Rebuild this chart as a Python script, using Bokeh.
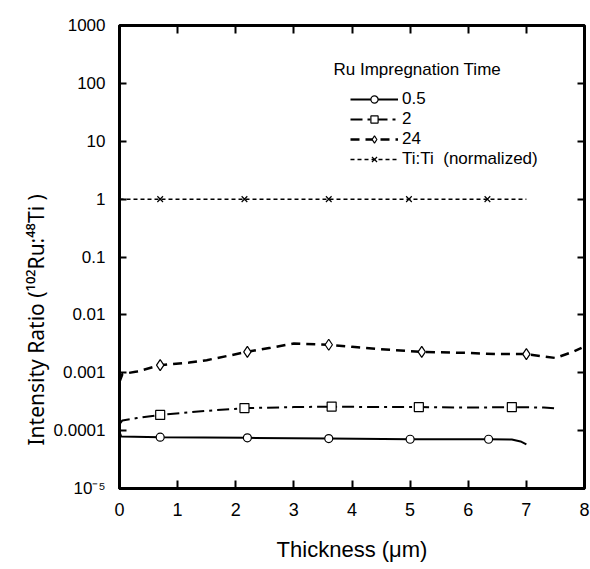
from bokeh.plotting import figure
from bokeh.models import (LinearAxis, LogAxis, FixedTicker, Legend, LegendItem, Label, Title)
from bokeh.embed import file_html
from bokeh.resources import INLINE

# ---- data ----
x_ticks = [0, 1, 2, 3, 4, 5, 6, 7, 8]
y_ticks = [1e-5, 1e-4, 1e-3, 1e-2, 1e-1, 1, 10, 100, 1000]
y_tick_labels = ["10\u207b\u2075", "0.0001", "0.001", "0.01", "0.1", "1", "10", "100", "1000"]

# 0.5 h impregnation (solid)
x_05 = [0, 0.03, 0.7, 2.2, 3.6, 5.0, 6.35, 6.75, 6.9, 7.0]
y_05 = [9.5e-5, 7.9e-5, 7.7e-5, 7.5e-5, 7.3e-5, 7.1e-5, 7.1e-5, 7.0e-5, 6.5e-5, 5.8e-5]
mx_05 = [0.7, 2.2, 3.6, 5.0, 6.35]
my_05 = [7.7e-5, 7.5e-5, 7.3e-5, 7.1e-5, 7.1e-5]

# 2 h impregnation (dash-dot)
x_2 = [0, 0.05, 0.3, 0.7, 1.5, 2.2, 3.0, 3.65, 4.5, 5.15, 6.0, 6.75, 7.3, 7.55]
y_2 = [1.3e-4, 1.5e-4, 1.65e-4, 1.87e-4, 2.2e-4, 2.45e-4, 2.55e-4, 2.6e-4, 2.55e-4,
       2.55e-4, 2.5e-4, 2.55e-4, 2.5e-4, 2.4e-4]
mx_2 = [0.7, 2.15, 3.65, 5.15, 6.75]
my_2 = [1.87e-4, 2.45e-4, 2.6e-4, 2.55e-4, 2.55e-4]

# 24 h impregnation (dashed)
x_24 = [0, 0.05, 0.3, 0.7, 1.2, 1.5, 2.2, 2.6, 3.0, 3.6, 4.0, 4.5, 5.2, 6.0, 6.5, 7.0, 7.5, 7.8, 7.95]
y_24 = [7e-4, 9.5e-4, 1.05e-3, 1.35e-3, 1.5e-3, 1.65e-3, 2.3e-3, 2.7e-3, 3.2e-3, 3.05e-3,
        2.8e-3, 2.55e-3, 2.3e-3, 2.2e-3, 2.1e-3, 2.1e-3, 1.8e-3, 2.3e-3, 2.7e-3]
mx_24 = [0.7, 2.2, 3.6, 5.2, 7.0]
my_24 = [1.35e-3, 2.3e-3, 3.05e-3, 2.3e-3, 2.1e-3]

# Ti:Ti normalized (short dash)
x_ti = [0, 7.0]
y_ti = [1, 1]
mx_ti = [0.7, 2.15, 3.6, 4.98, 6.33]
my_ti = [1, 1, 1, 1, 1]

series_labels = ["0.5", "2", "24", "Ti:Ti  (normalized)"]
y_title = "Intensity Ratio (\u00b9\u2070\u00b2Ru:\u2074\u2078Ti )"
x_title = "Thickness (\u03bcm)"

FONT = "Liberation Sans"

p = figure(width=590, height=569, x_range=(0, 8), y_range=(1e-5, 1e3),
           y_axis_type="log", output_backend="svg", toolbar_location=None,
           min_border_left=119, min_border_right=6, min_border_top=25,
           min_border_bottom=81)

p.grid.visible = False
p.outline_line_color = "black"
p.outline_line_width = 3

# bottom axis
xa = p.xaxis[0]
xa.ticker = FixedTicker(ticks=x_ticks)
xa.axis_line_width = 3
xa.major_tick_in = 8
xa.major_tick_out = 0
xa.major_tick_line_width = 2
xa.minor_tick_line_color = None
xa.major_label_text_font = FONT
xa.major_label_text_font_size = "18px"
xa.major_label_text_color = "black"
xa.major_label_standoff = 14
xa.axis_label = x_title
xa.axis_label_text_font = FONT
xa.axis_label_text_font_size = "22px"
xa.axis_label_text_font_style = "normal"
xa.axis_label_text_color = "black"
xa.axis_label_standoff = 18

# left axis
ya = p.yaxis[0]
ya.ticker = FixedTicker(ticks=y_ticks)
ya.major_label_overrides = {t: l for t, l in zip(y_ticks, y_tick_labels)}
ya.axis_line_width = 3
ya.major_tick_in = 7
ya.major_tick_out = 0
ya.major_tick_line_width = 2
ya.minor_tick_line_color = None
ya.major_label_text_font = FONT
ya.major_label_text_font_size = "17px"
ya.major_label_text_color = "black"
ya.major_label_standoff = 14

# y title: side title, shifted toward the bottom as in the reference
p.add_layout(Title(text=y_title, align="left", offset=43, standoff=2,
                   text_font="Noto Sans", text_font_size="21px",
                   text_font_style="normal", text_color="black"), "left")

# mirrored ticks on top and right
top = LinearAxis(ticker=FixedTicker(ticks=x_ticks), axis_line_color=None,
                 major_tick_in=8, major_tick_out=0, major_tick_line_width=2,
                 minor_tick_line_color=None, major_label_text_font_size="1px",
                 major_label_text_color=None, major_label_standoff=0)
p.add_layout(top, "above")
right = LogAxis(ticker=FixedTicker(ticks=y_ticks), axis_line_color=None,
                major_tick_in=7, major_tick_out=0, major_tick_line_width=2,
                minor_tick_line_color=None, major_label_text_font_size="1px",
                major_label_text_color=None, major_label_standoff=0)
p.add_layout(right, "right")

# series
l1 = p.line(x_05, y_05, line_color="black", line_width=2)
s1 = p.scatter(mx_05, my_05, marker="circle", size=8, fill_color="white",
               line_color="black", line_width=1.2)
l2 = p.line(x_2, y_2, line_color="black", line_width=2, line_dash="12 5 3 5")
s2 = p.scatter(mx_2, my_2, marker="square", size=9, fill_color="white",
               line_color="black", line_width=1.2)
l3 = p.line(x_24, y_24, line_color="black", line_width=2.5, line_dash="9 6")
s3 = p.scatter(mx_24, my_24, marker="diamond", size=11, fill_color="white",
               line_color="black", line_width=1.2)
l4 = p.line(x_ti, y_ti, line_color="black", line_width=1.5, line_dash="4 3")
s4 = p.scatter(mx_ti, my_ti, marker="x", size=8, line_color="black", line_width=1.2)

legend = Legend(items=[LegendItem(label=series_labels[0], renderers=[l1, s1]),
                       LegendItem(label=series_labels[1], renderers=[l2, s2]),
                       LegendItem(label=series_labels[2], renderers=[l3, s3]),
                       LegendItem(label=series_labels[3], renderers=[l4, s4])],
                location=(231, 319), glyph_width=48, glyph_height=18,
                label_height=18, label_standoff=4, padding=5, spacing=0,
                border_line_color=None, background_fill_alpha=0,
                label_text_font=FONT, label_text_font_size="17px",
                label_text_color="black")
p.add_layout(legend)

p.add_layout(Label(x=214, y=419, x_units="screen", y_units="screen",
                   text="Ru Impregnation Time", text_font=FONT,
                   text_font_size="17px", text_baseline="middle",
                   text_color="black"))

open("out.html", "w").write(file_html(p, INLINE))
